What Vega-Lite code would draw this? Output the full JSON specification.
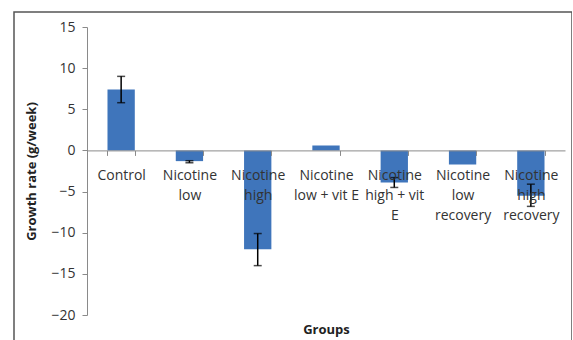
{
  "$schema": "https://vega.github.io/schema/vega-lite/v6.json",
  "autosize": "none",
  "padding": {"left": 14, "top": 12, "right": 0, "bottom": 0},
  "width": 558,
  "height": 333,
  "background": "white",
  "config": {
    "view": {"stroke": "#555555", "strokeWidth": 1.5},
    "font": "Open Sans"
  },
  "data": {
    "values": [
      {"group": "Control", "value": 7.4, "lo": 5.8, "hi": 9.0},
      {"group": "Nicotine|low", "value": -1.3, "lo": -1.5, "hi": -1.25},
      {"group": "Nicotine|high", "value": -12.0, "lo": -14.0, "hi": -10.1},
      {"group": "Nicotine|low + vit E", "value": 0.6},
      {"group": "Nicotine|high + vit|E", "value": -3.9, "lo": -4.5, "hi": -3.3},
      {"group": "Nicotine|low|recovery", "value": -1.7},
      {"group": "Nicotine|high|recovery", "value": -5.5, "lo": -6.8, "hi": -4.1}
    ]
  },
  "encoding": {
    "x": {
      "field": "group",
      "type": "nominal",
      "sort": null,
      "scale": {"range": [73, 551], "paddingInner": 0.6, "paddingOuter": 0.3},
      "axis": {
        "title": "Groups",
        "titleFont": "Open Sans",
        "titleFontWeight": "bold",
        "titleFontSize": 13,
        "titleColor": "#222222",
        "titleY": 179,
        "titleBaseline": "middle",
        "offset": -194.6,
        "labelExpr": "isValid(datum.value) ? split(datum.value, '|') : ''",
        "labelAngle": 0,
        "labelFontSize": 14,
        "labelColor": "#333333",
        "labelLineHeight": 20,
        "labelPadding": 13,
        "labelBaseline": "top",
        "domainColor": "#8a8a8a",
        "tickColor": "#8a8a8a",
        "tickSize": 5,
        "tickBand": "extent",
        "zindex": 1
      }
    }
  },
  "layer": [
    {
      "mark": {"type": "bar", "color": "#3F75BB"},
      "encoding": {
        "y": {
          "field": "value",
          "type": "quantitative",
          "scale": {"domain": [-20, 15], "range": [303, 15], "nice": false},
          "axis": {
            "title": "Growth rate (g/week)",
            "titleFont": "Open Sans",
            "titleFontWeight": "bold",
            "titleFontSize": 13,
            "titleColor": "#222222",
            "titleX": -56,
            "titleBaseline": "middle",
            "offset": -73,
            "values": [-20, -15, -10, -5, 0, 5, 10, 15],
            "grid": false,
            "labelFontSize": 14,
            "labelColor": "#333333",
            "labelPadding": 7,
            "domainColor": "#8a8a8a",
            "tickColor": "#8a8a8a",
            "tickSize": 5
          }
        }
      }
    },
    {
      "mark": {"type": "rule", "color": "black", "strokeWidth": 1.5},
      "encoding": {
        "y": {"field": "lo", "type": "quantitative"},
        "y2": {"field": "hi"}
      }
    },
    {
      "mark": {"type": "tick", "color": "black", "size": 8, "thickness": 1.5},
      "encoding": {"y": {"field": "lo", "type": "quantitative"}}
    },
    {
      "mark": {"type": "tick", "color": "black", "size": 8, "thickness": 1.5},
      "encoding": {"y": {"field": "hi", "type": "quantitative"}}
    }
  ]
}
